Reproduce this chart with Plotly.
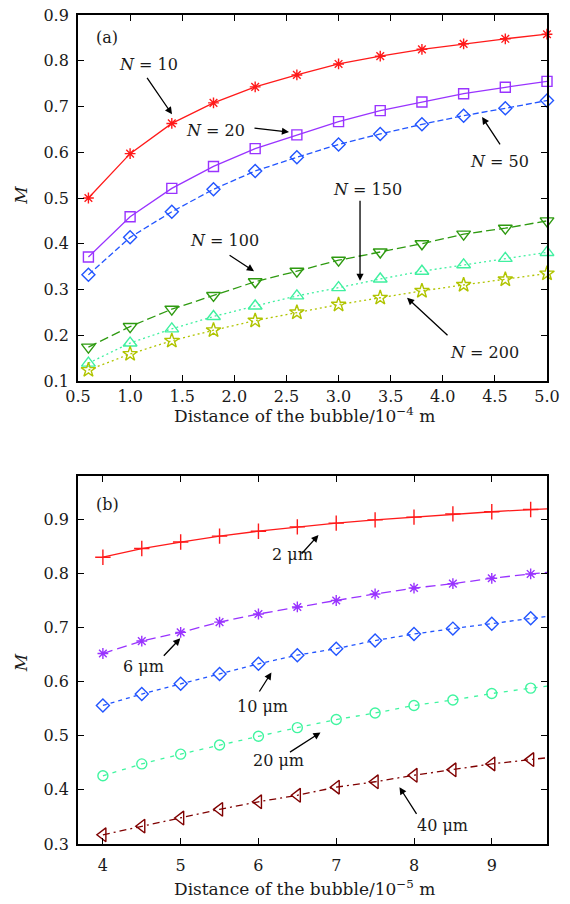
import plotly.graph_objects as go

# ---------------- data: panel (a) ----------------
dist_a = [0.6, 1.0, 1.4, 1.8, 2.2, 2.6, 3.0, 3.4, 3.8, 4.2, 4.6, 5.0]
m_n10 = [0.500, 0.597, 0.663, 0.708, 0.743, 0.769, 0.793, 0.810, 0.825, 0.837, 0.848, 0.858]
m_n20 = [0.371, 0.459, 0.521, 0.569, 0.608, 0.638, 0.667, 0.691, 0.710, 0.728, 0.742, 0.755]
m_n50 = [0.332, 0.414, 0.470, 0.519, 0.559, 0.589, 0.617, 0.640, 0.661, 0.680, 0.696, 0.713]
m_n100 = [0.174, 0.219, 0.257, 0.287, 0.317, 0.340, 0.364, 0.382, 0.400, 0.421, 0.434, 0.450]
m_n150 = [0.139, 0.183, 0.214, 0.241, 0.264, 0.286, 0.304, 0.323, 0.340, 0.354, 0.368, 0.381]
m_n200 = [0.124, 0.159, 0.188, 0.211, 0.232, 0.250, 0.267, 0.282, 0.297, 0.310, 0.322, 0.335]
xticks_a = [0.5, 1.0, 1.5, 2.0, 2.5, 3.0, 3.5, 4.0, 4.5, 5.0]
yticks_a = [0.1, 0.2, 0.3, 0.4, 0.5, 0.6, 0.7, 0.8, 0.9]

# ---------------- data: panel (b) ----------------
dist_b = [4.0, 4.5, 5.0, 5.5, 6.0, 6.5, 7.0, 7.5, 8.0, 8.5, 9.0, 9.5, 10.0]
m_2um = [0.830, 0.846, 0.858, 0.869, 0.878, 0.886, 0.893, 0.899, 0.904, 0.910, 0.914, 0.918, 0.921]
m_6um = [0.652, 0.675, 0.691, 0.710, 0.725, 0.738, 0.750, 0.762, 0.773, 0.781, 0.791, 0.799, 0.806]
m_10um = [0.556, 0.577, 0.596, 0.614, 0.633, 0.649, 0.661, 0.676, 0.688, 0.698, 0.707, 0.717, 0.726]
m_20um = [0.426, 0.448, 0.466, 0.483, 0.499, 0.515, 0.530, 0.542, 0.556, 0.566, 0.578, 0.588, 0.597]
m_40um = [0.317, 0.333, 0.348, 0.364, 0.378, 0.390, 0.405, 0.415, 0.427, 0.437, 0.448, 0.456, 0.464]
xticks_b = [4, 5, 6, 7, 8, 9]
yticks_b = [0.3, 0.4, 0.5, 0.6, 0.7, 0.8, 0.9]

FONT = "DejaVu Serif"
TXT = "#1a1a1a"

fig = go.Figure()

series_a = [
    ("N=10", m_n10, "#ff1a1a", "asterisk-open", "solid", 9),
    ("N=20", m_n20, "#9933ff", "square-open", "solid", 10),
    ("N=50", m_n50, "#2255ff", "diamond-open", "6px,3px", 10),
    ("N=100", m_n100, "#2e9a10", "triangle-down-open", "9px,4px", 12),
    ("N=150", m_n150, "#40f0a0", "triangle-up-open", "2px,3px", 12),
    ("N=200", m_n200, "#b0c400", "star-open", "2px,3px", 11),
]
for name, ys, col, sym, dash, sz in series_a:
    fig.add_trace(go.Scatter(
        x=dist_a, y=ys, name=name, mode="lines+markers",
        line=dict(color=col, width=1.3, dash=dash),
        marker=dict(symbol=sym, size=sz, color=col, line=dict(color=col, width=1.4)),
        cliponaxis=False, xaxis="x", yaxis="y", showlegend=False))

series_b = [
    ("2 μm", m_2um, "#ff1a1a", "cross-thin-open", "solid", 11),
    ("6 μm", m_6um, "#9933ff", "asterisk-open", "10px,5px", 9),
    ("10 μm", m_10um, "#2255ff", "diamond-open", "4px,4px", 10),
    ("20 μm", m_20um, "#40f5a0", "circle-open", "4px,6px", 10),
    ("40 μm", m_40um, "#7f0000", "triangle-left-open", "7px,4px,2px,4px", 12),
]
for name, ys, col, sym, dash, sz in series_b:
    fig.add_trace(go.Scatter(
        x=dist_b, y=ys, name=name, mode="lines+markers",
        line=dict(color=col, width=1.3, dash=dash),
        marker=dict(symbol=sym, size=sz, color=col, line=dict(color=col, width=1.4)),
        xaxis="x2", yaxis="y2", showlegend=False))

axis_common = dict(
    showline=True, linecolor="black", linewidth=1.8, mirror="ticks",
    ticks="inside", ticklen=6, tickwidth=1.4, tickcolor="black",
    showgrid=False, zeroline=False, automargin=False,
    ticklabeloverflow="allow",
    tickfont=dict(family=FONT, size=16, color=TXT),
)

# The page body adds an 8 px offset, so the figure is shifted accordingly.
fig.update_layout(
    width=562, height=896,
    margin=dict(l=70, r=23, t=7, b=60, autoexpand=False),
    paper_bgcolor="white", plot_bgcolor="white",
    font=dict(family=FONT, color=TXT),
    xaxis=dict(domain=[0, 1], range=[0.5, 5.0], tickvals=xticks_a,
               ticktext=[f"{v:.1f}" for v in xticks_a], anchor="y",
               ticklabelstandoff=0, **axis_common),
    yaxis=dict(domain=[0.5585, 1], range=[0.1, 0.9], tickvals=yticks_a,
               ticktext=[f"{v:.1f}" for v in yticks_a], anchor="x",
               ticklabelstandoff=4, **axis_common),
    xaxis2=dict(domain=[0, 1], range=[3.68, 9.71], tickvals=xticks_b,
                ticktext=[str(v) for v in xticks_b], anchor="y2",
                ticklabelstandoff=6, **axis_common),
    yaxis2=dict(domain=[0, 0.4439], range=[0.3, 0.98], tickvals=yticks_b,
                ticktext=[f"{v:.1f}" for v in yticks_b], anchor="x2",
                ticklabelstandoff=4, **axis_common),
)

ann = []

def label(x, y, text, xr="x", yr="y", size=16):
    ann.append(dict(x=x, y=y, xref=xr, yref=yr, text=text, showarrow=False,
                    font=dict(family=FONT, size=size, color=TXT),
                    xanchor="center", yanchor="middle"))

def arrow(tx, ty, hx, hy, xr="x", yr="y"):
    ann.append(dict(x=hx, y=hy, ax=tx, ay=ty, xref=xr, yref=yr, axref=xr, ayref=yr,
                    text="", showarrow=True, arrowhead=2, arrowsize=1.1,
                    arrowwidth=1.3, arrowcolor="black", standoff=0, startstandoff=0))

# panel (a)
label(0.778, 0.850, "(a)", size=16)
label(1.172, 0.792, "<i>N</i> = 10")
arrow(1.153, 0.766, 1.402, 0.683)
label(1.815, 0.648, "<i>N</i> = 20")
arrow(2.179, 0.653, 2.525, 0.644)
label(4.540, 0.579, "<i>N</i> = 50")
arrow(4.559, 0.614, 4.377, 0.677)
label(3.274, 0.518, "<i>N</i> = 150")
arrow(3.206, 0.497, 3.206, 0.319)
label(1.901, 0.408, "<i>N</i> = 100")
arrow(1.940, 0.377, 2.189, 0.340)
label(4.396, 0.162, "<i>N</i> = 200")
arrow(4.060, 0.197, 3.657, 0.282)

# panel (b)
label(4.055, 0.928, "(b)", "x2", "y2", size=16)
label(6.436, 0.835, "2 μm", "x2", "y2", size=16)
arrow(6.540, 0.834, 6.772, 0.871, "x2", "y2")
label(4.519, 0.628, "6 μm", "x2", "y2", size=16)
arrow(4.765, 0.645, 4.995, 0.680, "x2", "y2")
label(6.050, 0.554, "10 μm", "x2", "y2", size=16)
arrow(6.000, 0.579, 6.167, 0.617, "x2", "y2")
label(6.256, 0.454, "20 μm", "x2", "y2", size=16)
arrow(6.386, 0.468, 6.798, 0.506, "x2", "y2")
label(8.367, 0.334, "40 μm", "x2", "y2", size=16)
arrow(8.045, 0.353, 7.813, 0.405, "x2", "y2")

# axis titles
label(0.484, 0.5175, "Distance of the bubble/10<sup>−4</sup> m", "paper", "paper", size=17)
label(0.484, -0.0531, "Distance of the bubble/10<sup>−5</sup> m", "paper", "paper", size=17)
for yy in [0.782, 0.218]:
    ann.append(dict(x=-0.1215, y=yy, xref="paper", yref="paper", text="<i>M</i>",
                    showarrow=False, textangle=-90,
                    font=dict(family=FONT, size=17, color=TXT),
                    xanchor="center", yanchor="middle"))

fig.update_layout(annotations=ann)
fig.write_html("out.html")
